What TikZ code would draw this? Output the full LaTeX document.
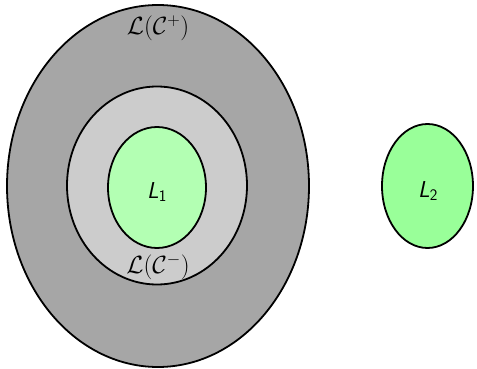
\documentclass[tikz,border=0pt]{standalone}
\usetikzlibrary{shapes.geometric}
\definecolor{outerg}{HTML}{A6A6A6}
\definecolor{midg}{HTML}{CCCCCC}
\definecolor{ingreen}{HTML}{B3FFB3}
\definecolor{outgreen}{HTML}{99FF99}
\begin{document}
\begin{tikzpicture}[x=1pt,y=-1pt,
  region/.style={draw=black,line width=1.8pt},
  lbl/.style={inner sep=0pt,font=\fontsize{23}{27}\selectfont}]
\useasboundingbox (0,0) rectangle (477,369);
\path[region,fill=outerg] (158,186) ellipse [x radius=151,y radius=181];
\path[region,fill=midg] (157,185.5) ellipse [x radius=90,y radius=99];
\path[region,fill=ingreen] (157,187.5) ellipse [x radius=49,y radius=60.5];
\path[region,fill=outgreen] (427.5,186) ellipse [x radius=45.5,y radius=62];
\node[lbl] (cplus) at (158,28) {$\mathcal{L}(\mathcal{C}^+)$};
\node[lbl] (cminus) at (158,267) {$\mathcal{L}(\mathcal{C}^-)$};
\node[lbl] (l1) at (157,192) {\textsf{\textit{L}\textsubscript{1}}};
\node[lbl] (l2) at (428,191) {\textsf{\textit{L}\textsubscript{2}}};
\end{tikzpicture}
\end{document}
